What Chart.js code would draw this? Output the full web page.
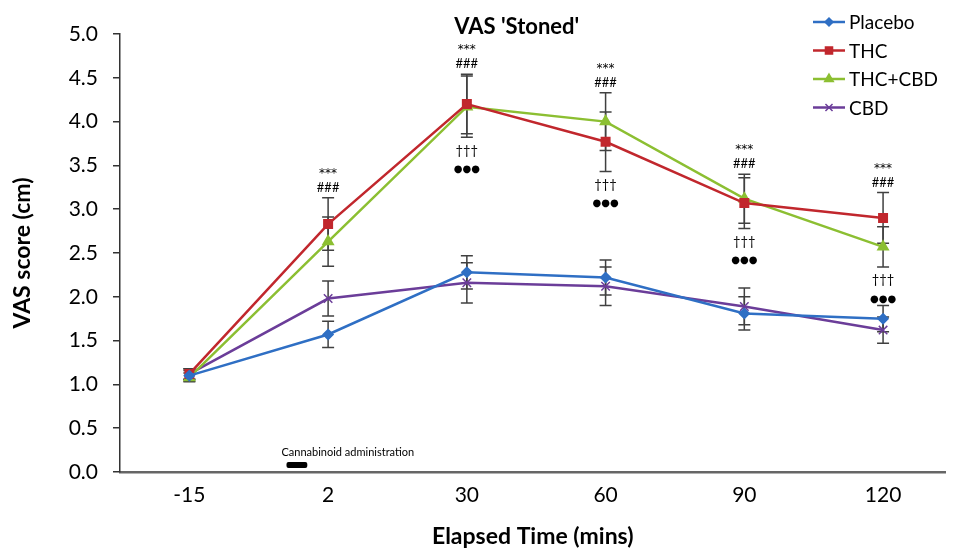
<!DOCTYPE html>
<html>
<head>
<meta charset="utf-8">
<script src="https://cdn.jsdelivr.net/npm/chart.js@4.4.0/dist/chart.umd.min.js"></script>
<style>
  html, body { margin: 0; padding: 0; background: #fff; }
  #wrap { width: 953px; height: 551px; }
</style>
</head>
<body>
<div id="wrap"><canvas id="vasChart"></canvas></div>
<script>
// data
const timePoints = ["-15", "2", "30", "60", "90", "120"];
const placebo = [1.10, 1.57, 2.28, 2.22, 1.81, 1.75];
const thc = [1.12, 2.83, 4.20, 3.77, 3.07, 2.90];
const thcCbd = [1.08, 2.63, 4.17, 4.00, 3.12, 2.57];
const cbd = [1.12, 1.98, 2.16, 2.12, 1.89, 1.62];

const placeboErr = [0.06, 0.15, 0.19, 0.20, 0.19, 0.15];
const thcErr = [0.06, 0.30, 0.34, 0.34, 0.29, 0.29];
const thcCbdErr = [0.05, 0.28, 0.35, 0.33, 0.28, 0.23];
const cbdErr = [0.06, 0.20, 0.23, 0.22, 0.21, 0.15];

// significance marks (index into timePoints)
const starsAt = [1, 2, 3, 4, 5];
const daggersAt = [2, 3, 4, 5];

const FONT = "Lato, 'Open Sans', sans-serif";

function pts(arr) {
  return arr.map((v, i) => ({ x: i, y: v }));
}

const series = [
  { label: "Placebo", data: placebo, err: placeboErr, color: "#2f6fc4", style: "rectRot", r: 5 },
  { label: "THC", data: thc, err: thcErr, color: "#c1272d", style: "rect", r: 6 },
  { label: "THC+CBD", data: thcCbd, err: thcCbdErr, color: "#8cbf32", style: "triangle", r: 6 },
  { label: "CBD", data: cbd, err: cbdErr, color: "#6b3d99", style: "crossRot", r: 6 },
];

const extras = {
  id: "extras",
  beforeDatasetsDraw(chart) {
    const { ctx, scales: { x, y } } = chart;
    ctx.save();
    ctx.strokeStyle = "#404040";
    ctx.lineWidth = 1.5;
    series.forEach(s => {
      s.data.forEach((v, i) => {
        const px = x.getPixelForValue(i);
        const top = y.getPixelForValue(v + s.err[i]);
        const bot = y.getPixelForValue(v - s.err[i]);
        ctx.beginPath();
        ctx.moveTo(px, top); ctx.lineTo(px, bot);
        ctx.moveTo(px - 6, top); ctx.lineTo(px + 6, top);
        ctx.moveTo(px - 6, bot); ctx.lineTo(px + 6, bot);
        ctx.stroke();
      });
    });
    ctx.restore();
  },
  afterDraw(chart) {
    const { ctx, chartArea, scales: { x, y } } = chart;
    ctx.save();
    ctx.fillStyle = "#000";
    ctx.textAlign = "center";
    ctx.textBaseline = "middle";

    // chart title
    ctx.font = "bold 22px " + FONT;
    ctx.fillText("VAS 'Stoned'", (chartArea.left + chartArea.right) / 2 - 16, 27);

    // significance marks above / below the active groups
    starsAt.forEach(i => {
      const px = x.getPixelForValue(i);
      const top = Math.min(y.getPixelForValue(thc[i] + thcErr[i]), y.getPixelForValue(thcCbd[i] + thcCbdErr[i]));
      ctx.font = "13px " + FONT;
      ctx.fillText("###", px, top - 10);
      ctx.font = "12px 'DejaVu Sans'";
      ctx.fillText("***", px, top - 24);
    });
    daggersAt.forEach(i => {
      const px = x.getPixelForValue(i);
      const bot = Math.max(y.getPixelForValue(thc[i] - thcErr[i]), y.getPixelForValue(thcCbd[i] - thcCbdErr[i]));
      ctx.font = "13px " + FONT;
      ctx.fillText("\u2020\u2020\u2020", px, bot + 13);
      ctx.font = "10px 'DejaVu Sans'";
      ctx.fillText("\u25CF\u25CF\u25CF", px, bot + 32);
    });

    // cannabinoid administration marker
    ctx.font = "11px " + FONT;
    ctx.textAlign = "left";
    ctx.fillText("Cannabinoid administration", x.getPixelForValue(0.664), y.getPixelForValue(0.22));
    const bx0 = x.getPixelForValue(0.7), bx1 = x.getPixelForValue(0.85);
    const by0 = y.getPixelForValue(0.115), by1 = y.getPixelForValue(0.045);
    ctx.beginPath();
    ctx.roundRect(bx0, by0, bx1 - bx0, by1 - by0, 2);
    ctx.fill();

    // legend
    ctx.font = "19px " + FONT;
    series.forEach((s, k) => {
      const ly = 22 + k * 28.5;
      ctx.strokeStyle = s.color;
      ctx.fillStyle = s.color;
      ctx.lineWidth = 2.5;
      ctx.beginPath();
      ctx.moveTo(813, ly); ctx.lineTo(845, ly);
      ctx.stroke();
      ctx.lineWidth = 1.5;
      Chart.helpers.drawPoint(ctx, { pointStyle: s.style, radius: s.r - 1, borderWidth: 1.5, rotation: 0 }, 829, ly);
      ctx.fillStyle = "#000";
      ctx.fillText(s.label, 849, ly + 1);
    });
    ctx.restore();
  }
};

const ctx = document.getElementById("vasChart").getContext("2d");
const vasChart = new Chart(ctx, {
  type: "line",
  data: {
    datasets: series.map(s => ({
      label: s.label,
      data: pts(s.data),
      borderColor: s.color,
      backgroundColor: s.color,
      borderWidth: 2.5,
      pointStyle: s.style,
      pointRadius: s.r,
      pointBorderWidth: 1.5,
      pointBorderColor: s.color,
      pointBackgroundColor: s.color,
      tension: 0,
    })),
  },
  options: {
    responsive: true,
    maintainAspectRatio: false,
    animation: false,
    layout: { padding: { top: 34, right: 0, left: 0, bottom: 0 } },
    plugins: {
      legend: { display: false },
      title: { display: false },
      tooltip: { enabled: false },
    },
    scales: {
      x: {
        type: "linear",
        min: -0.5,
        max: 5.45,
        afterBuildTicks: s => { s.ticks = timePoints.map((_, i) => ({ value: i })); },
        afterFit: s => { s.height = 79; },
        ticks: {
          callback: v => timePoints[v],
          font: { family: FONT, size: 21 },
          color: "#000",
          padding: 11,
          maxRotation: 0,
          autoSkip: false,
        },
        grid: { display: true, drawOnChartArea: false, drawTicks: false },
        border: { display: true, color: "#666", width: 2.5 },
        title: {
          display: true,
          text: "Elapsed Time (mins)",
          font: { family: FONT, size: 23, weight: "bold" },
          color: "#000",
          padding: { top: 0, bottom: 1 },
        },
      },
      y: {
        min: 0,
        max: 5,
        afterFit: s => { s.width = 120; },
        ticks: {
          stepSize: 0.5,
          callback: v => v.toFixed(1),
          font: { family: FONT, size: 21 },
          color: "#000",
          padding: 15,
        },
        grid: { drawOnChartArea: false, drawTicks: true, tickLength: 7, color: "#333", lineWidth: 1.5 },
        border: { display: true, color: "#333", width: 1.5 },
        title: {
          display: true,
          text: "VAS score (cm)",
          font: { family: FONT, size: 23, weight: "bold" },
          color: "#000",
          padding: { top: 9, bottom: 0 },
        },
      },
    },
  },
  plugins: [extras],
});
</script>
</body>
</html>
